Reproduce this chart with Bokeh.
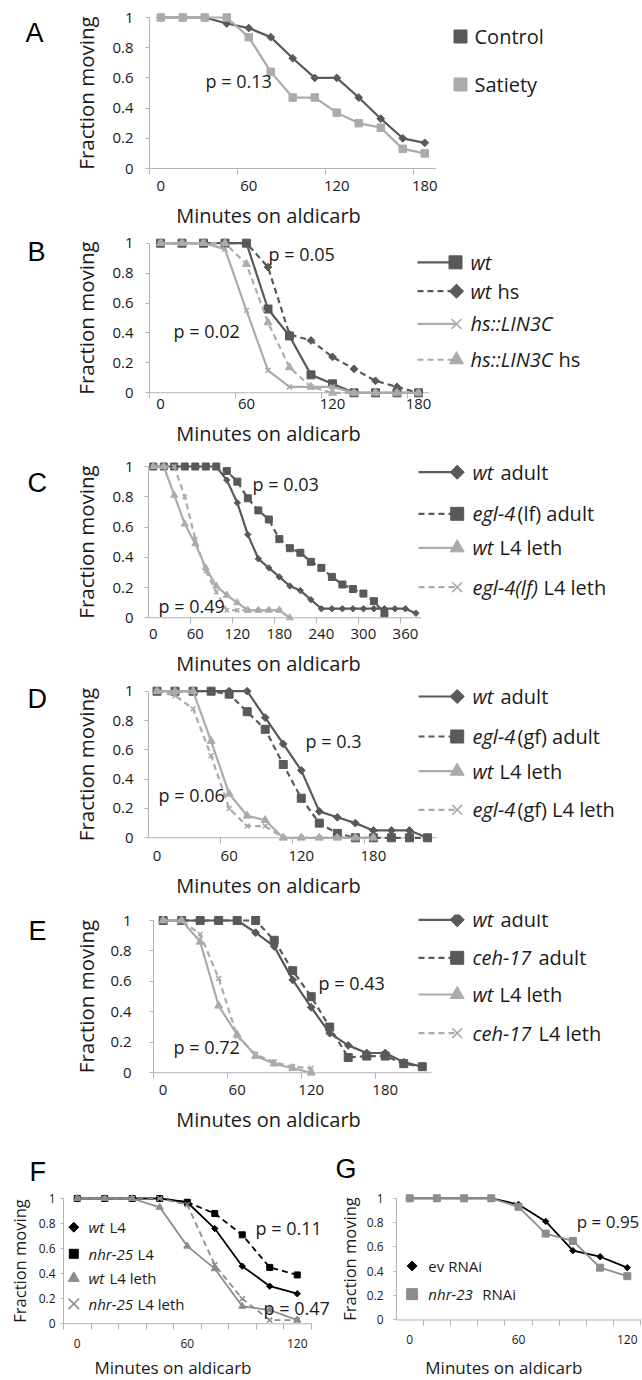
import math
from bokeh.plotting import figure
from bokeh.layouts import column, row
from bokeh.models import Range1d, FixedTicker, Label, BoxAnnotation, CustomJSTickFormatter
from bokeh.core.properties import value
from bokeh.embed import file_html
from bokeh.resources import INLINE

FONT = "Open Sans"
LFONT = "Liberation Sans"
DARK = "#595959"
LIGHT = "#ababab"
BLACK = "#000000"
GREY = "#8c8c8c"
AXIS = "#b3b3b3"
TXT = "#1a1a1a"
DASH = "6 4"
SOLID = "solid"

# ---------------- data ----------------
y_ticks = [0, 0.2, 0.4, 0.6, 0.8, 1.0]

a_minutes = [0, 15, 30, 45, 60, 75, 90, 105, 120, 135, 150, 165, 180]
a_control = [1, 1, 1, 0.96, 0.93, 0.87, 0.73, 0.60, 0.60, 0.47, 0.33, 0.20, 0.17]
a_satiety = [1, 1, 1, 1, 0.87, 0.64, 0.47, 0.47, 0.37, 0.30, 0.27, 0.13, 0.10]
a_xlabels = [0, 60, 120, 180]
a_xticks = [-7.5, 52.5, 112.5, 172.5]

b_minutes = [0, 15, 30, 45, 60, 75, 90, 105, 120, 135, 150, 165, 180]
b_wt = [1, 1, 1, 1, 1, 0.56, 0.38, 0.12, 0.06, 0, 0, 0, 0]
b_wt_hs = [1, 1, 1, 1, 1, 0.84, 0.39, 0.35, 0.24, 0.16, 0.08, 0.04, 0]
b_lin = [1, 1, 1, 0.96, 0.55, 0.15, 0.04, 0.04, 0.04, 0, 0, 0, 0]
b_lin_hs = [1, 1, 1, 1, 0.86, 0.47, 0.17, 0.04, 0, 0, 0, 0, 0]

c_minutes = [0, 15, 30, 45, 60, 75, 90, 105, 120, 135, 150, 165, 180, 195, 210,
             225, 240, 255, 270, 285, 300, 315, 330, 345, 360, 375]
c_wt = [1, 1, 1, 1, 1, 1, 1, 0.91, 0.76, 0.55, 0.39, 0.33, 0.27, 0.21, 0.18,
        0.12, 0.06, 0.06, 0.06, 0.06, 0.06, 0.06, 0.06, 0.06, 0.06, 0.03]
c_egl = [1, 1, 1, 1, 1, 1, 1, 0.97, 0.90, 0.79, 0.71, 0.65, 0.52, 0.46, 0.43,
         0.37, 0.33, 0.27, 0.22, 0.19, 0.16, 0.11, 0.03]
c_wt_l4 = [1, 1, 0.81, 0.62, 0.49, 0.33, 0.21, 0.15, 0.10, 0.05, 0.05, 0.05, 0.05, 0]
c_egl_l4 = [1, 1, 1, 0.80, 0.52, 0.31, 0.17, 0.05, 0.05, 0.05, 0.05, 0.05, 0.05]
c_xlabels = [0, 60, 120, 180, 240, 300, 360]
c_xticks = [-7.5, 52.5, 112.5, 172.5, 232.5, 292.5, 352.5]

d_minutes = [0, 15, 30, 45, 60, 75, 90, 105, 120, 135, 150, 165, 180, 195, 210, 225]
d_wt = [1, 1, 1, 1, 1, 1, 0.82, 0.64, 0.46, 0.18, 0.14, 0.10, 0.05, 0.05, 0.05, 0]
d_egl = [1, 1, 1, 1, 0.98, 0.86, 0.74, 0.50, 0.27, 0.10, 0.03, 0, 0, 0, 0, 0]
d_wt_l4 = [1, 1, 1, 0.66, 0.30, 0.15, 0.12, 0, 0, 0, 0, 0, 0]
d_egl_l4 = [1, 0.97, 0.88, 0.56, 0.20, 0.08, 0.08, 0, 0, 0, 0, 0, 0]

e_minutes = [0, 15, 30, 45, 60, 75, 90, 105, 120, 135, 150, 165, 180, 195, 210]
e_wt = [1, 1, 1, 1, 1, 0.92, 0.83, 0.61, 0.43, 0.26, 0.18, 0.13, 0.13, 0.07, 0.04]
e_ceh = [1, 1, 1, 1, 1, 1, 0.87, 0.67, 0.50, 0.30, 0.10, 0.11, 0.11, 0.06, 0.04]
e_wt_l4 = [1, 1, 0.86, 0.44, 0.25, 0.11, 0.06, 0.03, 0]
e_ceh_l4 = [1, 1, 0.91, 0.62, 0.24, 0.12, 0.07, 0.04, 0.03]

f_minutes = [0, 15, 30, 45, 60, 75, 90, 105, 120]
f_wt = [1, 1, 1, 1, 0.97, 0.76, 0.46, 0.30, 0.24]
f_nhr = [1, 1, 1, 1, 0.97, 0.88, 0.71, 0.45, 0.39]
f_wt_leth = [1, 1, 1, 0.93, 0.62, 0.44, 0.14, 0.11, 0.03]
f_nhr_leth = [1, 1, 1, 1, 0.95, 0.47, 0.20, 0.03, 0.03]
f_xlabels = [0, 60, 120]
f_xticks = [-7.5, 7.5, 22.5, 37.5, 52.5, 67.5, 82.5, 97.5, 112.5, 127.5]

g_minutes = [0, 15, 30, 45, 60, 75, 90, 105, 120]
g_ev = [1, 1, 1, 1, 0.95, 0.81, 0.57, 0.52, 0.43]
g_nhr = [1, 1, 1, 1, 0.93, 0.71, 0.65, 0.43, 0.36]

PAD = 6


# ---------------- helpers ----------------
def canvas(x0, x1, y0, y1):
    """A plain drawing strip (no axes) whose coordinates are page pixels."""
    W, H = round(x1) - round(x0), round(y1) - round(y0)
    c = figure(width=W, height=H, x_range=Range1d(x0, x1), y_range=Range1d(0, H),
               output_backend="svg", toolbar_location=None, min_border=0,
               x_axis_type=None, y_axis_type=None, title=None)
    c.outline_line_color = None
    c.background_fill_color = "white"
    c.border_fill_color = "white"

    def d(px, py):
        return px, round(y1) - py
    return c, d


def ctext(c, d, px, py, t, size, font=FONT, style="normal", align="left", color=TXT):
    x, y = d(px, py)
    c.text([x], [y], text=[t], text_font=value(font), text_font_size=size,
           text_font_style=style, text_align=align, text_baseline="middle",
           text_color=color)


def title_strip(x0, x1, top, bot, cy, base_x, size_px):
    """Strip whose (empty) vertical axis carries the 'Fraction moving' title,
    centred at cy with its text baseline at base_x."""
    X0, X1, T, B = round(x0), round(x1), round(top), round(bot)
    fl = X1 - 2
    half = min(cy - top, bot - cy) - 1
    ft, fb = round(cy - half), round(cy + half)
    s = figure(width=X1 - X0, height=B - T, x_range=Range1d(0, 1), y_range=Range1d(0, 1),
               output_backend="svg", toolbar_location=None, title=None, x_axis_type=None,
               min_border_left=fl - X0, min_border_right=0,
               min_border_top=ft - T, min_border_bottom=B - fb)
    s.outline_line_color = None
    s.ygrid.visible = False
    s.background_fill_color = "white"
    s.border_fill_color = "white"
    ya = s.yaxis[0]
    ya.ticker = FixedTicker(ticks=[], minor_ticks=[])
    ya.axis_line_color = None
    ya.major_tick_line_color = None
    ya.minor_tick_line_color = None
    ya.major_tick_in = 0
    ya.major_tick_out = 0
    ya.minor_tick_in = 0
    ya.minor_tick_out = 0
    ya.major_label_standoff = 0
    ya.axis_label = "Fraction moving"
    ya.axis_label_text_font = FONT
    ya.axis_label_text_font_size = "%gpx" % size_px
    ya.axis_label_text_font_style = "normal"
    ya.axis_label_text_color = TXT
    ya.axis_label_standoff = max(0, round(fl - (base_x + 0.293 * size_px)))
    return s


def panel(fx0, fx1, top, bot, xlo, xax_hi, pxlo, pxax_hi, py1, py0, frame_r):
    k = (pxax_hi - pxlo) / (xax_hi - xlo)
    unit = py0 - py1
    fl, fr = round(pxlo), round(frame_r)
    ft, fb = round(py1 - PAD), round(py0 + PAD)
    X0, X1, T, B = round(fx0), round(fx1), round(top), round(bot)
    x_start = xlo + (fl - pxlo) / k
    x_end = xlo + (fr - pxlo) / k
    y_start = (py0 - fb) / unit
    y_end = (py0 - ft) / unit
    p = figure(width=X1 - X0, height=B - T,
               x_range=Range1d(x_start, x_end), y_range=Range1d(y_start, y_end),
               output_backend="svg", toolbar_location=None, title=None,
               min_border_left=fl - X0, min_border_right=X1 - fr,
               min_border_top=ft - T, min_border_bottom=B - fb)
    p.outline_line_color = None
    p.xgrid.visible = False
    p.ygrid.visible = False
    p.background_fill_color = "white"
    p.border_fill_color = "white"
    # horizontal axis line drawn at the value 0 (as Excel does), up to the axis end
    h = 0.5 / unit
    p.add_layout(BoxAnnotation(left=x_start, right=xax_hi, bottom=-h, top=h,
                               fill_color=AXIS, fill_alpha=1.0, line_color=None,
                               level="underlay"))

    def d(px, py):
        return xlo + (px - pxlo) / k, (py0 - py) / unit
    return p, d


def axes(p, xlabels, xticks, x_standoff, tsize, y_out, y_standoff):
    xa = p.xaxis[0]
    xa.ticker = FixedTicker(ticks=xlabels, minor_ticks=xticks)
    xa.axis_line_color = None
    xa.major_tick_line_color = None
    xa.major_tick_in = 0
    xa.major_tick_out = 0
    xa.minor_tick_line_color = AXIS
    xa.minor_tick_in = PAD
    xa.minor_tick_out = 0
    xa.major_label_standoff = x_standoff
    xa.major_label_text_font = FONT
    xa.major_label_text_font_size = tsize
    xa.major_label_text_color = TXT

    ya = p.yaxis[0]
    ya.ticker = FixedTicker(ticks=y_ticks, minor_ticks=[])
    ya.bounds = (0, 1)
    ya.formatter = CustomJSTickFormatter(code="return String(Math.round(tick * 10) / 10);")
    ya.axis_line_color = AXIS
    ya.major_tick_line_color = AXIS
    ya.major_tick_in = 0
    ya.major_tick_out = y_out
    ya.minor_tick_line_color = None
    ya.major_label_standoff = y_standoff
    ya.major_label_text_font = FONT
    ya.major_label_text_font_size = tsize
    ya.major_label_text_color = TXT


def marks(p, x, y, kind, color, size):
    if kind == "diamond":
        p.scatter(x, y, marker="square", angle=math.pi / 4, size=size,
                  fill_color=color, line_color=color)
    elif kind == "x":
        p.scatter(x, y, marker="x", size=size, line_color=color, line_width=1.6)
    else:
        p.scatter(x, y, marker=kind, size=size, fill_color=color, line_color=color)


def series(p, x, y, color, dash, kind, size, lw=2.2):
    p.line(x, y, line_color=color, line_width=lw, line_dash=dash)
    marks(p, x, y, kind, color, size)


def label(p, d, px, py, text, size):
    x, y = d(px, py)
    p.add_layout(Label(x=x, y=y, text=text, text_font=FONT, text_font_size=size,
                       text_align="left", text_baseline="middle", text_color=TXT))


def legend_item(p, d, py, line_px, mx, color, dash, kind, msize, texts, tsize, lw=2.2):
    if line_px is not None:
        x0, yy = d(line_px[0], py)
        x1, _ = d(line_px[1], py)
        p.line([x0, x1], [yy, yy], line_color=color, line_width=lw, line_dash=dash)
    mxd, myd = d(mx, py)
    marks(p, [mxd], [myd], kind, color, msize)
    for tx, t, it in texts:
        txd, tyd = d(tx, py)
        p.text([txd], [tyd], text=[t], text_font=value(FONT), text_font_size=tsize,
               text_font_style="italic" if it else "normal",
               text_baseline="middle", text_align="left", text_color=TXT)


TS = "15px"
TY = 20.5
TX = "20px"
PS = "18px"
LS = "20px"
LET = "27px"
LET_R = 56      # right edge of the panel-letter strip
STRIP_R = 104   # right edge of the y-title strip for rows A-E
W_ALL = 642
YT_BASE = 92.9  # baseline x of the vertical titles of rows A-E


def full_row(letter, letter_xy, ytitle_cy, xtitle_xy, top, mid, bot, main):
    let, dl = canvas(0, LET_R, top, mid)
    ctext(let, dl, letter_xy[0], letter_xy[1], letter, LET, font=LFONT, color="#000000")
    yt = title_strip(LET_R, STRIP_R, top, mid, ytitle_cy, YT_BASE, TY)
    bottom, db = canvas(0, W_ALL, mid, bot)
    ctext(bottom, db, xtitle_xy[0], xtitle_xy[1], "Minutes on aldicarb", TX, align="center")
    return column(row(let, yt, main), bottom)


# ---------------- panel A ----------------
A_T, A_M, A_B = 0, 201, 229
pA, dA = panel(STRIP_R, W_ALL, A_T, A_M, -7.5, 187.5, 149.25, 435.25, 17, 168, 640)
axes(pA, a_xlabels, a_xticks, 6, TS, 4, 12)
series(pA, a_minutes, a_control, DARK, SOLID, "diamond", 5.5)
series(pA, a_minutes, a_satiety, LIGHT, SOLID, "square", 7.5)
label(pA, dA, 205, 80, "p = 0.13", PS)
legend_item(pA, dA, 36, None, 460, DARK, SOLID, "square", 13, [(474, "Control", False)], LS)
legend_item(pA, dA, 84, None, 460, LIGHT, SOLID, "square", 13, [(474, "Satiety", False)], LS)
rowA = full_row("A", (25, 27), 103.3, (268, 215), A_T, A_M, A_B, pA)

# ---------------- panel B ----------------
B_T, B_M, B_B = 229, 419, 447
pB, dB = panel(STRIP_R, W_ALL, B_T, B_M, -7.5, 187.5, 149.25, 428.75, 241.7, 392.3, 640)
axes(pB, a_xlabels, a_xticks, 0, TS, 4, 12)
series(pB, b_minutes, b_wt, DARK, SOLID, "square", 8)
series(pB, b_minutes, b_wt_hs, DARK, DASH, "diamond", 5.5)
series(pB, b_minutes, b_lin, LIGHT, SOLID, "x", 7)
series(pB, b_minutes, b_lin_hs, LIGHT, DASH, "triangle", 8)
label(pB, dB, 268, 253, "p = 0.05", PS)
label(pB, dB, 173, 330, "p = 0.02", PS)
legend_item(pB, dB, 261, (417, 455), 455, DARK, SOLID, "square", 13, [(470, "wt", True)], LS)
legend_item(pB, dB, 290, (417, 455), 456, DARK, DASH, "diamond", 10,
            [(470, "wt", True), (497, "hs", False)], LS)
legend_item(pB, dB, 323, (417, 455), 456, LIGHT, SOLID, "x", 14, [(470, "hs::LIN3C", True)], LS)
legend_item(pB, dB, 359, (417, 455), 456, LIGHT, DASH, "triangle", 14,
            [(470, "hs::LIN3C", True), (558, "hs", False)], LS)
rowB = full_row("B", (27, 246), 327.5, (268, 433), B_T, B_M, B_B, pB)

# ---------------- panel C ----------------
C_T, C_M, C_B = 447, 649, 677
pC, dC = panel(STRIP_R, W_ALL, C_T, C_M, -7.5, 382.5, 147.5, 420.7, 466, 617.3, 640)
axes(pC, c_xlabels, c_xticks, 5, TS, 4, 11)
series(pC, c_minutes, c_wt, DARK, SOLID, "diamond", 4.5)
series(pC, c_minutes[:len(c_egl)], c_egl, DARK, DASH, "square", 7)
series(pC, c_minutes[:len(c_wt_l4)], c_wt_l4, LIGHT, SOLID, "triangle", 7)
series(pC, c_minutes[:len(c_egl_l4)], c_egl_l4, LIGHT, DASH, "x", 6)
label(pC, dC, 252, 483, "p = 0.03", PS)
label(pC, dC, 158, 605, "p = 0.49", PS)
legend_item(pC, dC, 471.7, (418, 456), 456.7, DARK, SOLID, "diamond", 10,
            [(472, "wt", True), (500, "adult", False)], LS)
legend_item(pC, dC, 513.3, (418, 456), 456.7, DARK, DASH, "square", 13,
            [(472, "egl-4", True), (517, "(lf) adult", False)], LS)
legend_item(pC, dC, 547.3, (418, 456), 456.7, LIGHT, SOLID, "triangle", 14,
            [(472, "wt", True), (499, "L4 leth", False)], LS)
legend_item(pC, dC, 586.7, (418, 456), 456.7, LIGHT, DASH, "x", 14,
            [(472, "egl-4(lf)", True), (543, "L4 leth", False)], LS)
rowC = full_row("C", (27, 475), 554, (268, 663), C_T, C_M, C_B, pC)

# ---------------- panel D ----------------
D_T, D_M, D_B = 677, 871, 899
pD, dD = panel(STRIP_R, W_ALL, D_T, D_M, -7.5, 232.5, 147.5, 436, 690.7, 837.3, 640)
axes(pD, a_xlabels, a_xticks, 7, TS, 4, 11)
series(pD, d_minutes, d_wt, DARK, SOLID, "diamond", 5.5)
series(pD, d_minutes, d_egl, DARK, DASH, "square", 8)
series(pD, d_minutes[:len(d_wt_l4)], d_wt_l4, LIGHT, SOLID, "triangle", 8)
series(pD, d_minutes[:len(d_egl_l4)], d_egl_l4, LIGHT, DASH, "x", 7)
label(pD, dD, 305, 740, "p = 0.3", PS)
label(pD, dD, 158, 794, "p = 0.06", PS)
legend_item(pD, dD, 696, (418, 456), 456.7, DARK, SOLID, "diamond", 10,
            [(472, "wt", True), (500, "adult", False)], LS)
legend_item(pD, dD, 736, (418, 456), 456.7, DARK, DASH, "square", 13,
            [(472, "egl-4", True), (517, "(gf) adult", False)], LS)
legend_item(pD, dD, 770.7, (418, 456), 456.7, LIGHT, SOLID, "triangle", 14,
            [(472, "wt", True), (499, "L4 leth", False)], LS)
legend_item(pD, dD, 809.3, (418, 456), 456.7, LIGHT, DASH, "x", 14,
            [(472, "egl-4", True), (517, "(gf) L4 leth", False)], LS)
rowD = full_row("D", (27, 693), 772.5, (268, 885), D_T, D_M, D_B, pD)

# ---------------- panel E ----------------
E_T, E_M, E_B = 899, 1105, 1133
pE, dE = panel(STRIP_R, W_ALL, E_T, E_M, -7.5, 217.5, 153.4, 431, 920, 1072.3, 640)
axes(pE, a_xlabels, a_xticks, 6, TS, 4, 18)
series(pE, e_minutes, e_wt, DARK, SOLID, "diamond", 5.5)
series(pE, e_minutes, e_ceh, DARK, DASH, "square", 8)
series(pE, e_minutes[:len(e_wt_l4)], e_wt_l4, LIGHT, SOLID, "triangle", 8)
series(pE, e_minutes[:len(e_ceh_l4)], e_ceh_l4, LIGHT, DASH, "x", 7)
label(pE, dE, 318, 982, "p = 0.43", PS)
label(pE, dE, 173, 1046, "p = 0.72", PS)
legend_item(pE, dE, 919.3, (418, 456), 456.7, DARK, SOLID, "diamond", 10,
            [(472, "wt", True), (500, "adult", False)], LS)
legend_item(pE, dE, 957.3, (418, 456), 456.7, DARK, DASH, "square", 13,
            [(472, "ceh-17", True), (538, "adult", False)], LS)
legend_item(pE, dE, 994, (418, 456), 456.7, LIGHT, SOLID, "triangle", 14,
            [(472, "wt", True), (499, "L4 leth", False)], LS)
legend_item(pE, dE, 1032.7, (418, 456), 456.7, LIGHT, DASH, "x", 14,
            [(472, "ceh-17", True), (538, "L4 leth", False)], LS)
rowE = full_row("E", (28, 920), 1009, (268, 1119), E_T, E_M, E_B, pE)

# ---------------- panels F and G ----------------
FT = "12px"
FL = "15px"
FTY = 16.5
FTX = "17px"
G_T, G_TOP2, G_M, G_B = 1133, 1187, 1355, 1379
FG_Y1, FG_Y0 = 1198, 1323.3
SPLIT = 330

# F
topF, dtF = canvas(0, SPLIT, G_T, G_TOP2)
ctext(topF, dtF, 29, 1171, "F", LET, font=LFONT, color="#000000")
leftF = title_strip(0, 33, G_TOP2, G_M, 1258.3, 24.8, FTY)
pF, dF = panel(33, SPLIT, G_TOP2, G_M, -7.5, 127.5, 63, 310.5, FG_Y1, FG_Y0, 329)
axes(pF, f_xlabels, f_xticks, 9, FT, 3, 5)
series(pF, f_minutes, f_wt, BLACK, SOLID, "diamond", 4.5, 1.8)
series(pF, f_minutes, f_nhr, BLACK, DASH, "square", 6, 1.8)
series(pF, f_minutes, f_wt_leth, GREY, SOLID, "triangle", 7, 1.8)
series(pF, f_minutes, f_nhr_leth, GREY, DASH, "x", 7, 1.8)
label(pF, dF, 255, 1227, "p = 0.11", PS)
label(pF, dF, 263, 1307, "p = 0.47", PS)
legend_item(pF, dF, 1226.7, None, 73.3, BLACK, SOLID, "diamond", 7,
            [(88, "wt", True), (109, "L4", False)], FL)
legend_item(pF, dF, 1253.3, None, 73.3, BLACK, SOLID, "square", 9,
            [(88, "nhr-25", True), (137, "L4", False)], FL)
legend_item(pF, dF, 1277.7, None, 73.3, GREY, SOLID, "triangle", 11,
            [(88, "wt", True), (109, "L4 leth", False)], FL)
legend_item(pF, dF, 1303.3, None, 73.3, GREY, SOLID, "x", 15,
            [(88, "nhr-25", True), (137, "L4 leth", False)], FL)
botF, dbF = canvas(0, SPLIT, G_M, G_B)
ctext(botF, dbF, 172.5, 1366.7, "Minutes on aldicarb", FTX, align="center")
colF = column(topF, row(leftF, pF), botF)

# G
topG, dtG = canvas(SPLIT, W_ALL, G_T, G_TOP2)
ctext(topG, dtG, 335, 1168, "G", LET, font=LFONT, color="#000000")
leftG = title_strip(SPLIT, 363, G_TOP2, G_M, 1256.7, 354.8, FTY)
pG, dG = panel(363, W_ALL, G_TOP2, G_M, -7.5, 127.5, 394.6, 640.4, FG_Y1, FG_Y0, 641)
axes(pG, f_xlabels, f_xticks, 9, FT, 3, 10)
series(pG, g_minutes, g_ev, BLACK, SOLID, "diamond", 4.5, 1.8)
series(pG, g_minutes, g_nhr, GREY, SOLID, "square", 7, 1.8)
label(pG, dG, 576, 1222, "p = 0.95", "17px")
legend_item(pG, dG, 1267.7, None, 410.7, BLACK, SOLID, "diamond", 7,
            [(427, "ev RNAi", False)], FL)
legend_item(pG, dG, 1296.7, None, 410.7, GREY, SOLID, "square", 11,
            [(427, "nhr-23", True), (481, "RNAi", False)], FL)
botG, dbG = canvas(SPLIT, W_ALL, G_M, G_B)
ctext(botG, dbG, 503.3, 1366.7, "Minutes on aldicarb", FTX, align="center")
colG = column(topG, row(leftG, pG), botG)

layout = column(rowA, rowB, rowC, rowD, rowE, row(colF, colG))
open("out.html", "w").write(file_html(layout, INLINE, "Fraction moving"))
